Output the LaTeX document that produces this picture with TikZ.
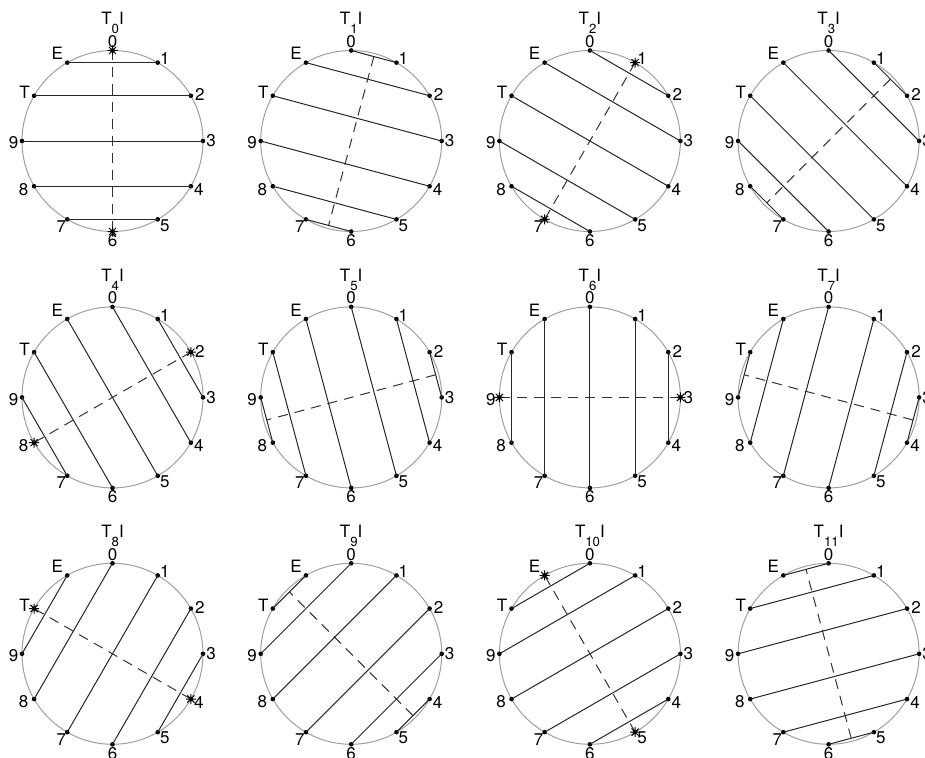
\documentclass[tikz,border=0pt]{standalone}
\usepackage{fontspec}
\setmainfont{TeX Gyre Heros}
\usetikzlibrary{calc}

\begin{document}
\begin{tikzpicture}[
    x=0.5pt, y=0.5pt,
    font=\fontsize{8.5}{10}\selectfont,
    ring/.style={draw=gray!75, line width=0.5pt},
    dot/.style={circle, fill=black, inner sep=0pt, minimum size=2.3pt},
    lbl/.style={inner sep=0pt, anchor=center},
    title/.style={inner sep=0pt, anchor=base},
    chord/.style={line width=0.5pt, black!85},
    axis/.style={line width=0.5pt, black!80, dash pattern=on 5pt off 3.5pt},
    fixmark/.pic={\draw[line width=0.5pt] (-5,0) -- (5,0) (0,-5) -- (0,5)
        (-3.6,-3.6) -- (3.6,3.6) (-3.6,3.6) -- (3.6,-3.6);}
]
\useasboundingbox (0,0) rectangle (925,757);

\foreach \n in {0,...,11} {
  \pgfmathsetmacro\cx{112.5+238.7*mod(\n,4)}
  \pgfmathsetmacro\cy{616-256.4*floor(\n/4)}
  \coordinate (c\n) at (\cx,\cy);
  \draw[ring] (c\n) circle[radius=90.5];
  \node[title] (t\n) at ($(c\n)+(0,116)$)
    {T\raisebox{-4.4pt}{\fontsize{6.6}{7}\selectfont\n}I};
  % pitch classes round the clock
  \foreach \k/\lab/\dx/\dy in {0/0/0/9, 1/1/7/4, 2/2/9/1, 3/3/8/0, 4/4/8/-3,
      5/5/7/-6, 6/6/0/-9, 7/7/-6/-7, 8/8/-10.5/-3, 9/9/-8.5/-2, 10/T/-9.5/3, 11/E/-10/9} {
    \node[dot] (p\n-\k) at ($(c\n)+({90-30*\k}:90.5)$) {};
    \node[lbl] (l\n-\k) at ($(p\n-\k)+(\dx,\dy)$) {\lab};
  }
  % axis of the inversion
  \pgfmathsetmacro\rr{ifthenelse(mod(\n,2)==0,90.5,87.4)}
  \coordinate (a\n) at ($(c\n)+({90-15*\n}:\rr)$);
  \coordinate (b\n) at ($(c\n)+({270-15*\n}:\rr)$);
  \draw[axis] (a\n) -- (b\n);
  % pairs k <-> n-k
  \foreach \k in {0,...,11} {
    \pgfmathtruncatemacro\j{mod(\n-\k+12,12)}
    \ifnum\k<\j \draw[chord] (p\n-\k.center) -- (p\n-\j.center); \fi
    \ifnum\k=\j \pic at (p\n-\k) {fixmark}; \fi
  }
}
\end{tikzpicture}
\end{document}
